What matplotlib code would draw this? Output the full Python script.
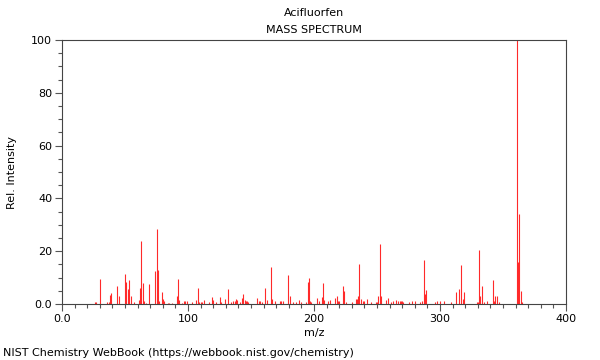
import matplotlib
matplotlib.use("Agg")
import matplotlib.pyplot as plt
from matplotlib.ticker import MultipleLocator, FuncFormatter

title = "Acifluorfen"
subtitle = "MASS SPECTRUM"
xlabel = "m/z"
ylabel = "Rel. Intensity"
footer = "NIST Chemistry WebBook (https://webbook.nist.gov/chemistry)"

mz = [26, 27, 30, 36, 37, 38, 39, 44, 45, 50, 51, 52, 53, 55, 57, 61, 62, 63, 64, 65,
      67, 69, 74, 75, 76, 77, 79, 80, 81, 84, 85, 87, 91, 92, 93, 95, 97, 98, 99,
      103, 106, 108, 109, 110, 111, 113, 117, 119, 120, 122, 125, 126, 129, 132, 134,
      136, 137, 138, 139, 141, 143, 144, 145, 146, 147, 148, 155, 156, 157, 159, 161,
      163, 166, 167, 169, 173, 174, 175, 179, 181, 183, 186, 188, 190, 194, 195, 196,
      197, 198, 202, 204, 206, 207, 208, 211, 213, 217, 218, 219, 220, 223, 224, 225,
      230, 233, 234, 235, 236, 237, 239, 240, 242, 245, 249, 250, 251, 252, 253, 257,
      259, 261, 263, 265, 267, 268, 269, 270, 271, 275, 278, 280, 284, 286, 287, 288,
      289, 296, 298, 300, 303, 309, 313, 315, 317, 318, 319, 329, 330, 331, 332, 333,
      335, 337, 342, 343, 344, 345, 347, 361, 362, 363, 364, 365]
intensity = [0.7, 0.8, 9.5, 0.6, 0.6, 3.5, 4.0, 7.0, 3.0, 11.2, 8.3, 5.5, 9.0, 3.0, 0.8, 1.5, 6.0, 23.7, 8.0, 1.0,
             0.5, 7.7, 12.4, 28.5, 13.0, 1.0, 4.5, 2.0, 1.0, 0.5, 0.5, 0.5, 3.0, 9.5, 1.5, 0.5, 1.0, 1.0, 1.1,
             0.7, 1.6, 6.0, 0.9, 0.7, 0.7, 1.4, 0.9, 2.6, 1.6, 0.7, 2.8, 0.9, 1.8, 5.5, 0.8,
             1.3, 1.3, 1.9, 1.5, 0.7, 2.2, 3.6, 1.4, 1.0, 1.0, 0.7, 2.2, 1.3, 1.0, 0.7, 6.0,
             1.6, 14.2, 1.9, 1.3, 1.3, 1.0, 1.3, 10.8, 3.0, 0.9, 0.9, 1.6, 0.9, 0.9, 8.3, 10.0,
             1.3, 0.6, 2.3, 1.3, 2.7, 7.9, 1.6, 1.3, 1.6, 2.3, 3.2, 1.3, 1.3, 7.0, 5.0, 0.6,
             0.6, 2.0, 2.0, 3.0, 15.2, 2.0, 1.3, 1.3, 2.0, 0.6, 0.6, 0.6, 3.0, 22.8, 3.0, 1.6,
             2.3, 0.7, 1.0, 1.6, 1.3, 1.3, 1.0, 1.0, 0.7, 0.7, 1.0, 1.3, 0.7, 1.0, 16.6, 3.6,
             5.3, 0.7, 1.0, 1.0, 1.0, 0.7, 4.5, 5.8, 14.9, 1.9, 4.5, 0.7, 0.7, 20.3, 3.2, 7.0,
             0.7, 1.3, 9.2, 1.3, 3.2, 3.2, 0.8, 100.0, 16.0, 34.0, 5.0, 0.8]

x_ticks = [0, 100, 200, 300, 400]
y_ticks = [0, 20, 40, 60, 80, 100]

plt.rcParams['font.family'] = ['DejaVu Sans']
fig = plt.figure(figsize=(6, 3.6), dpi=100)
ax = fig.add_axes([62/600, 1 - 304/360, 504/600, 264/360])

ax.vlines(mz, 0, intensity, colors='#ff2a2a', linewidth=0.8)

ax.set_xlim(0, 400)
ax.set_ylim(0, 100)
ax.set_xticks(x_ticks)
ax.set_yticks(y_ticks)
ax.xaxis.set_minor_locator(MultipleLocator(10))
ax.yaxis.set_minor_locator(MultipleLocator(5))
fmt = FuncFormatter(lambda v, p: "0.0" if v == 0 else f"{int(v)}")
ax.xaxis.set_major_formatter(fmt)
ax.yaxis.set_major_formatter(fmt)
ax.tick_params(axis='both', which='major', length=5, width=0.8, labelsize=8, color='#555555', pad=2)
ax.tick_params(axis='both', which='minor', length=3, width=0.8, color='#555555')
ax.tick_params(top=False, right=False)
for s in ax.spines.values():
    s.set_color('#444444')
    s.set_linewidth(0.8)

fig.text(314/600, 1 - 13/360, title, ha='center', va='center', fontsize=8)
fig.text(314/600, 1 - 30/360, subtitle, ha='center', va='center', fontsize=8)
fig.text(314/600, 1 - 333/360, xlabel, ha='center', va='center', fontsize=8)
fig.text(12/600, 1 - 172/360, ylabel, ha='center', va='center', rotation=90, fontsize=8)
fig.text(3/600, 1 - 353/360, footer, ha='left', va='center', fontsize=8)

fig.savefig("out.png", dpi=100)
